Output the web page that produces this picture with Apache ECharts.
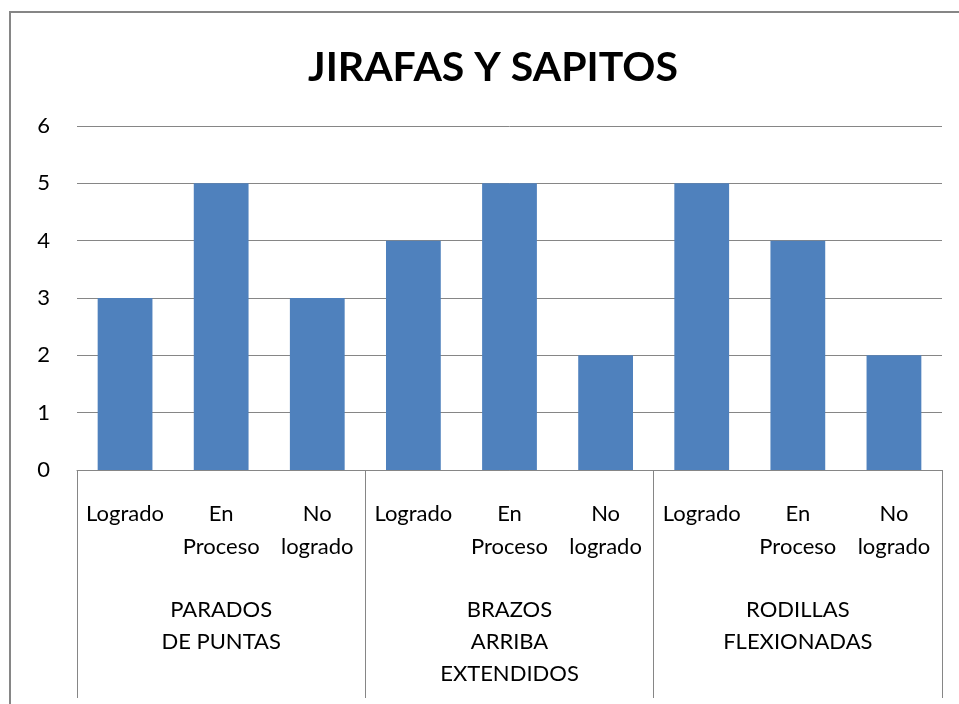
<html>
<head>
<meta charset="UTF-8">
<title>JIRAFAS Y SAPITOS</title>
<script src="https://cdn.jsdelivr.net/npm/echarts@6/dist/echarts.min.js"></script>
<style>
  body { margin: 0; background: #fff; }
  #container { width: 959px; height: 704px; }
</style>
</head>
<body>
<div id="container"></div>
<script>
var chartTitle = 'JIRAFAS Y SAPITOS';
var levels = ['Logrado', 'En\nProceso', 'No\nlogrado'];
var groups = ['PARADOS\nDE PUNTAS', 'BRAZOS\nARRIBA\nEXTENDIDOS', 'RODILLAS\nFLEXIONADAS'];
var values = [3, 5, 3, 4, 5, 2, 5, 4, 2];
var yTicks = [0, 1, 2, 3, 4, 5, 6];

// categorias internas: los tres niveles repetidos por grupo
var categories = [];
for (var g = 0; g < groups.length; g++) {
    for (var i = 0; i < levels.length; i++) {
        categories.push(levels[i]);
    }
}

var font = 'Lato, "Open Sans", sans-serif';
var mycharts = echarts.init(document.getElementById('container'));

var option = {
    animation: false,
    backgroundColor: '#fff',
    title: {
        text: chartTitle,
        left: 488,
        top: 42,
        textAlign: 'center',
        textStyle: { fontFamily: font, fontWeight: 'bold', fontSize: 41, color: '#000' }
    },
    graphic: [{
        type: 'rect',
        shape: { x: 10, y: 12, width: 980, height: 720 },
        style: { fill: null, stroke: '#868686', lineWidth: 2 }
    }],
    grid: { left: 77, right: 17, top: 126, bottom: 234 },
    xAxis: [{
        type: 'category',
        data: categories,
        position: 'bottom',
        axisLine: { lineStyle: { color: '#868686', width: 1 } },
        axisTick: { show: false },
        axisLabel: {
            interval: 0, margin: 27, fontFamily: font, fontSize: 22,
            color: '#000', lineHeight: 33, align: 'center'
        }
    }, {
        type: 'category',
        data: groups,
        position: 'bottom',
        offset: 0,
        axisLine: { show: false },
        axisTick: { show: true, length: 228, lineStyle: { color: '#868686' } },
        axisLabel: {
            interval: 0, margin: 124, fontFamily: font, fontSize: 22,
            color: '#000', lineHeight: 32, align: 'center'
        }
    }],
    yAxis: {
        type: 'value',
        min: yTicks[0],
        max: yTicks[yTicks.length - 1],
        interval: 1,
        axisLine: { show: false },
        axisTick: { show: false },
        splitLine: { lineStyle: { color: '#868686', width: 1 } },
        axisLabel: { margin: 27, fontFamily: font, fontSize: 22, color: '#000' }
    },
    series: [{
        type: 'bar',
        xAxisIndex: 0,
        data: values,
        barWidth: '57%',
        itemStyle: { color: '#4F81BD' }
    }]
};
mycharts.setOption(option);
</script>
</body>
</html>
